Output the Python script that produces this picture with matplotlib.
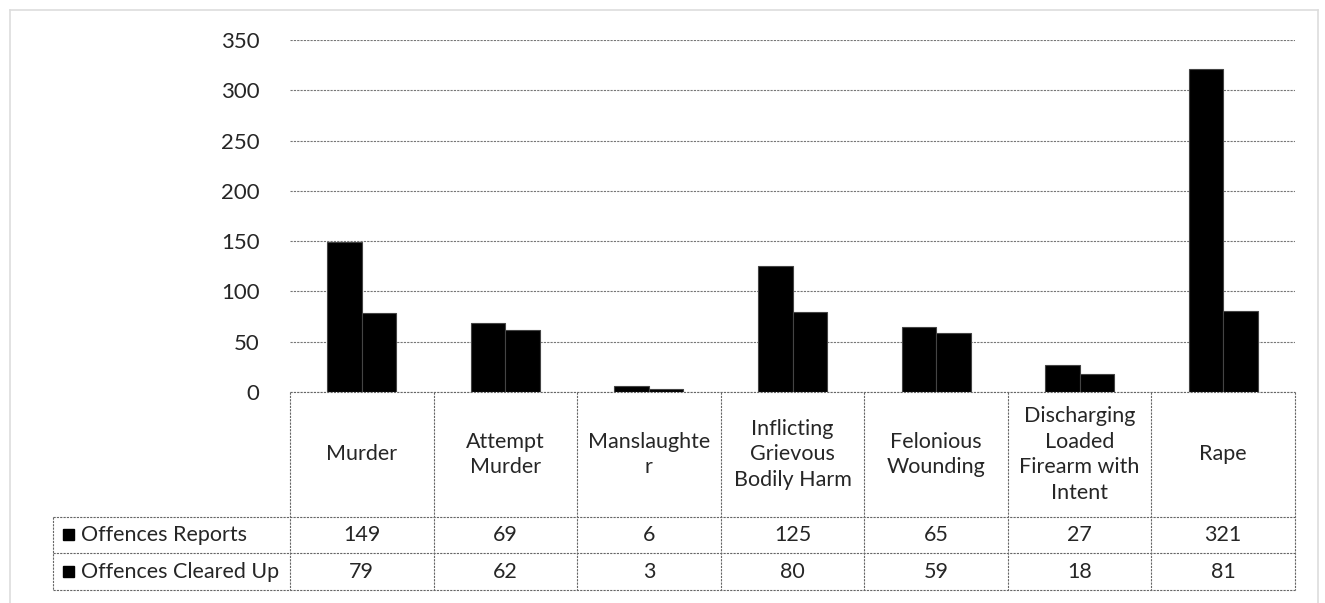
import matplotlib.pyplot as plt

categories = ["Murder", "Attempt\nMurder", "Manslaughte\nr", "Inflicting\nGrievous\nBodily Harm",
              "Felonious\nWounding", "Discharging\nLoaded\nFirearm with\nIntent", "Rape"]
reports = [149, 69, 6, 125, 65, 27, 321]
cleared = [79, 62, 3, 80, 59, 18, 81]
series_names = ["Offences Reports", "Offences Cleared Up"]
yticks = [0, 50, 100, 150, 200, 250, 300, 350]

plt.rcParams['font.family'] = ['Lato', 'DejaVu Sans']
W, H = 1325, 603
fig = plt.figure(figsize=(W / 100, H / 100), dpi=100)
fs = 15.5
txt_color = '#262626'

def fx(px):
    return px / W

def fy(py):
    return 1 - py / H

ax = fig.add_axes([fx(290), fy(392), fx(1295) - fx(290), fy(40) - fy(392)])
n = len(categories)
x = list(range(n))
bw = 0.24
ax.bar([i - bw / 2 for i in x], reports, width=bw, color='black', edgecolor='#444444', linewidth=0.8, zorder=3)
ax.bar([i + bw / 2 for i in x], cleared, width=bw, color='black', edgecolor='#444444', linewidth=0.8, zorder=3)
ax.set_xlim(-0.5, n - 0.5)
ax.set_ylim(0, 350)
ax.set_yticks(yticks)
ax.tick_params(axis='y', length=0, labelsize=16, pad=22, colors=txt_color)
ax.set_xticks([])
for s in ax.spines.values():
    s.set_visible(False)
ax.yaxis.grid(True, linestyle=(0, (2, 1)), color='#777777', linewidth=0.8)
ax.set_axisbelow(True)

# data table below the chart
line_kw = dict(color='#666666', linewidth=0.8, linestyle=(0, (2, 1)), transform=fig.transFigure)
left, right = 53, 1295
top, r1, r2, bot = 392, 517, 553, 590
colw = (right - 290) / n
fig.add_artist(plt.Line2D([fx(290), fx(right)], [fy(top), fy(top)], **line_kw))
for yy in (r1, r2, bot):
    fig.add_artist(plt.Line2D([fx(left), fx(right)], [fy(yy), fy(yy)], **line_kw))
fig.add_artist(plt.Line2D([fx(left), fx(left)], [fy(r1), fy(bot)], **line_kw))
for i in range(n + 1):
    xx = 290 + i * colw
    fig.add_artist(plt.Line2D([fx(xx), fx(xx)], [fy(top), fy(bot)], **line_kw))

for i, cat in enumerate(categories):
    cx = 290 + (i + 0.5) * colw
    fig.text(fx(cx), fy((top + r1) / 2), cat, ha='center', va='center', fontsize=fs,
             color=txt_color, linespacing=1.35)
    fig.text(fx(cx), fy((r1 + r2) / 2), str(reports[i]), ha='center', va='center', fontsize=fs, color=txt_color)
    fig.text(fx(cx), fy((r2 + bot) / 2), str(cleared[i]), ha='center', va='center', fontsize=fs, color=txt_color)

for j, (name, (ya, yb)) in enumerate(zip(series_names, [(r1, r2), (r2, bot)])):
    ym = (ya + yb) / 2
    fig.patches.append(plt.Rectangle((fx(63), fy(ym + 5)), fx(11), fy(ym - 6) - fy(ym + 5),
                                     color='black', transform=fig.transFigure))
    fig.text(fx(81), fy(ym), name, ha='left', va='center', fontsize=fs, color=txt_color)

# outer chart frame
frame_kw = dict(color='#dddddd', linewidth=1.2, transform=fig.transFigure)
fig.add_artist(plt.Line2D([fx(10), fx(10)], [fy(10), fy(603)], **frame_kw))
fig.add_artist(plt.Line2D([fx(1318), fx(1318)], [fy(10), fy(603)], **frame_kw))
fig.add_artist(plt.Line2D([fx(10), fx(1318)], [fy(10), fy(10)], **frame_kw))

fig.savefig("out.png", dpi=100)
